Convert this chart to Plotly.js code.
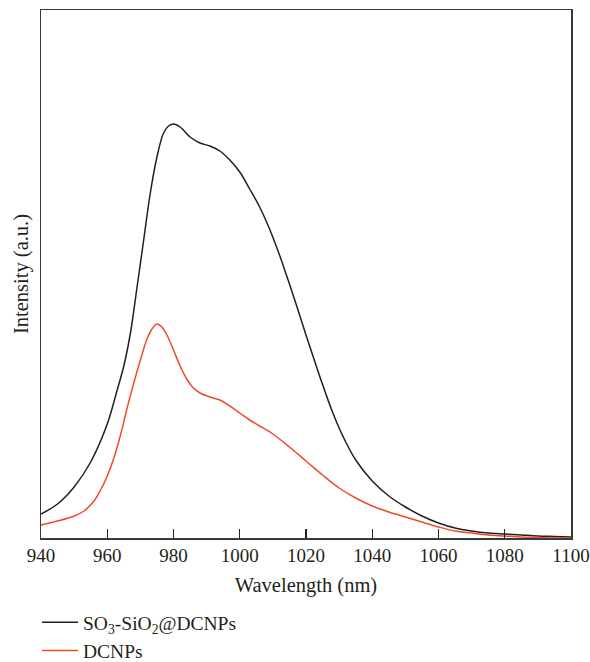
<!DOCTYPE html>
<html>
<head>
<meta charset="utf-8">
<script src="https://cdn.plot.ly/plotly-3.0.1.min.js"></script>
<style>html,body{margin:0;padding:0;background:#fff;}#chart{width:590px;height:662px;}</style>
</head>
<body>
<div id="chart"></div>
<script>
// Wavelength (nm) and intensity (a.u.)
const wlSO3 = [940,945,950,955,960,963,965,967,969,971,973,975,977,978.5,980,982,985,988,991,994,997,1000,1003,1006,1009,1012,1015,1017,1020,1022,1024,1026,1028,1030,1032,1035,1040,1045,1050,1055,1060,1065,1070,1075,1080,1085,1090,1095,1100];
const intSO3 = [24,34,51,76,114,148,172,205,251,298,345,381,405,412,414,411,401,395,392,387,378,366,349,331,309,283,254,234,203,183,163,144,126,110,96,78,57,42,31,22,15,10,7,5,4,3,2,1.5,1];

const wlDC = [940,945,950,953,956,958,960,962,964,966,968,970,972,973.5,975,976.5,978,980,982,984,986,988,991,994,997,1000,1003,1006,1010,1015,1020,1025,1030,1035,1040,1045,1050,1055,1060,1065,1070,1075,1080,1085,1090,1095,1100];
const intDC = [13,17,22,27,37,48,62,80,103,130,155,178,199,209,214,211,203,188,172,159,150,145,141,138,132,125,118,112,104,91,77,63,50,40,32,26,21,16,11,7,5,3,2,1,0.5,0,0];

const seriesNames = ['SO<sub>3</sub>-SiO<sub>2</sub>@DCNPs', 'DCNPs'];
const xTicks = [940,960,980,1000,1020,1040,1060,1080,1100];

const serif = 'Liberation Serif, Times New Roman, serif';
const traces = [
  {x: wlSO3, y: intSO3, name: seriesNames[0], type: 'scatter', mode: 'lines',
   line: {color: '#231f20', width: 1.5, shape: 'spline', smoothing: 1}},
  {x: wlDC, y: intDC, name: seriesNames[1], type: 'scatter', mode: 'lines',
   line: {color: '#ef4a2b', width: 1.5, shape: 'spline', smoothing: 1}}
];
const legendTop = 603;
const layout = {
  width: 590, height: 662,
  margin: {l: 41, r: 19, t: 10, b: 124},
  paper_bgcolor: '#fff', plot_bgcolor: '#fff',
  font: {family: serif, color: '#231f20', size: 19},
  showlegend: true,
  legend: {xref: 'paper', yref: 'container', x: -0.0075, xanchor: 'left',
           y: 1 - legendTop / 662, yanchor: 'top',
           orientation: 'v', itemwidth: 36,
           font: {family: serif, size: 19.5, color: '#231f20'}, bgcolor: 'rgba(0,0,0,0)'},
  xaxis: {range: [940, 1100], tickvals: xTicks, ticktext: xTicks.map(String),
          ticks: 'inside', ticklen: 9, tickwidth: 1.3, tickcolor: '#231f20',
          showline: true, mirror: true, linecolor: '#3a3a3a', linewidth: 1.5,
          showgrid: false, zeroline: false, tickfont: {size: 19},
          title: {text: 'Wavelength (nm)', font: {size: 20.5}, standoff: 12}},
  yaxis: {range: [0, 528], showticklabels: false, ticks: '',
          showline: true, mirror: true, linecolor: '#3a3a3a', linewidth: 1.5,
          showgrid: false, zeroline: false,
          title: {text: 'Intensity (a.u.)', font: {size: 20.5}, standoff: 5}}
};
Plotly.newPlot('chart', traces, layout, {displayModeBar: false, staticPlot: true});
</script>
</body>
</html>
